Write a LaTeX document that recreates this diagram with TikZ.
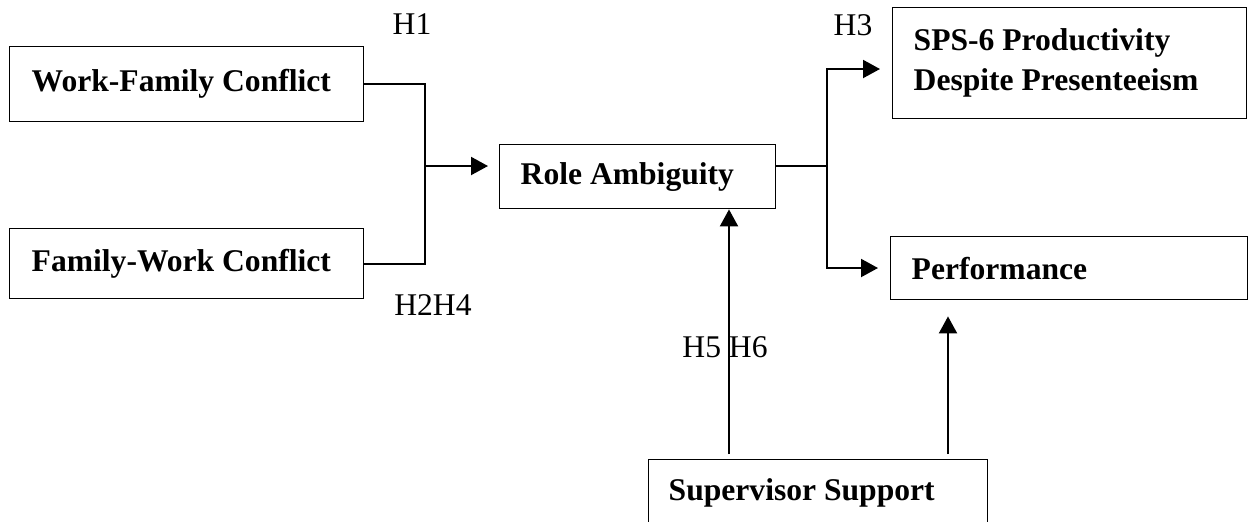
\documentclass[tikz,border=0pt]{standalone}
\usepackage{fontspec}
\setmainfont{Liberation Serif}
\usetikzlibrary{
  arrows.meta,
  positioning,
  calc
}

\begin{document}
\begin{tikzpicture}[
  x=0.5pt, y=-0.5pt,
  concept box/.style={draw, line width=0.7pt, anchor=north west,
    inner ysep=0pt, font=\bfseries\fontsize{15.8}{20}\selectfont},
  hyp label/.style={font=\fontsize{15.8}{19}\selectfont, inner sep=0pt},
  path line/.style={line width=1pt},
  path arrow/.style={line width=1pt, -{Triangle[length=8.5pt, width=9pt]}},
]

% Page frame (the bottom box runs off the page)
\clip (0,0) rectangle (1248,521);

% Constructs
\node[concept box, minimum width=177pt, minimum height=37.5pt]
  (wfc) at (9,46) {\makebox[155pt][l]{Work-Family Conflict}};
\node[concept box, minimum width=177pt, minimum height=35pt]
  (fwc) at (9,228) {\makebox[155pt][l]{Family-Work Conflict}};
\node[concept box, minimum width=138pt, minimum height=32pt]
  (ra) at (499,144) {\makebox[117pt][l]{Role Ambiguity}};
\node[concept box, minimum width=177pt, minimum height=55.5pt]
  (sps) at (892,7) {\vbox{\baselineskip=20pt
    \hbox to 156pt{SPS-6 Productivity\hfil}
    \hbox to 156pt{Despite Presenteeism\hfil}}};
\node[concept box, minimum width=178.5pt, minimum height=31.5pt]
  (perf) at (890,236) {\makebox[157.5pt][l]{Performance}};
\node[concept box, minimum width=169.5pt, minimum height=33pt]
  (ss) at (648,459) {\makebox[149.5pt][l]{Supervisor Support}};

% Conflicts -> role ambiguity
\coordinate (jl) at (425,166);
\draw[path line] (wfc.east) -| (jl);
\draw[path line] (fwc.east) -| (jl);
\draw[path arrow, shorten >=5.5pt] (jl) -- (jl -| ra.west);

% Role ambiguity -> outcomes
\coordinate (jr) at (827,166);
\coordinate (ts) at (827,69);
\coordinate (tp) at (827,268);
\draw[path line] (jr -| ra.east) -- (jr);
\draw[path arrow, shorten >=6pt] (jr) -- (ts) -- (ts -| sps.west);
\draw[path arrow, shorten >=6pt] (jr) -- (tp) -- (tp -| perf.west);

% Moderator arrows
\coordinate (s1) at (729,454);
\coordinate (s2) at (948,454);
\draw[path arrow] (s1) -- (s1 |- ra.south);
\draw[path arrow, shorten >=8pt] (s2) -- (s2 |- perf.south);

% Hypothesis labels
\node[hyp label] (h1) at (412,24) {H1};
\node[hyp label] (h2h4) at (433,305) {H2H4};
\node[hyp label] (h3) at (853,25) {H3};
\node[hyp label] (h5h6) at (725,347) {H5 H6};

\end{tikzpicture}
\end{document}
